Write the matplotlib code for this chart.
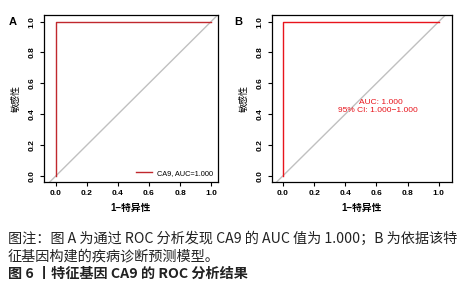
import matplotlib
matplotlib.use("Agg")
import matplotlib.pyplot as plt

plt.rcParams['font.family'] = ['Liberation Sans', 'Noto Sans CJK SC', 'DejaVu Sans']

# ROC curve points (1 - specificity, sensitivity)
fpr = [0.0, 0.0, 1.0]
tpr = [0.0, 1.0, 1.0]
ticks = [0.0, 0.2, 0.4, 0.6, 0.8, 1.0]
tick_labels = ["0.0", "0.2", "0.4", "0.6", "0.8", "1.0"]
gene = "CA9"
auc = 1.000
ci = (1.000, 1.000)
panel_labels = ["A", "B"]
xlabel = "1\u2212特异性"
ylabel = "敏感性"
caption1 = "图注：图 A 为通过 ROC 分析发现 CA9 的 AUC 值为 1.000；B 为依据该特"
caption2 = "征基因构建的疾病诊断预测模型。"
caption3 = "图 6 丨特征基因 CA9 的 ROC 分析结果"

fig = plt.figure(figsize=(4.69, 3.0), dpi=100)
W, H = 469, 300

def make_ax(left, right, top, bottom):
    return fig.add_axes([left / W, 1 - bottom / H, (right - left) / W, (bottom - top) / H])

axA = make_ax(44, 218, 15, 182)
axB = make_ax(272, 452, 15, 182)
xlims = [(-0.077, 1.045), (-0.07, 1.085)]
roc_colors = ["#c0282d", "#e8141c"]

for ax, lab, xl, col, px in zip([axA, axB], panel_labels, xlims, roc_colors, [13, 238]):
    ax.plot([-0.2, 1.2], [-0.2, 1.2], color="#c0c0c0", lw=1.0, zorder=1)
    ax.plot(fpr, tpr, color=col, lw=1.0, zorder=2)
    ax.set_xlim(*xl)
    ax.set_ylim(-0.04, 1.043)
    ax.set_xticks(ticks)
    ax.set_xticklabels(tick_labels, fontsize=6, fontweight="bold")
    ax.set_yticks(ticks)
    ax.set_yticklabels(tick_labels, fontsize=6, fontweight="bold", rotation=90, va="center")
    ax.tick_params(length=3, width=0.8, pad=3)
    for s in ax.spines.values():
        s.set_linewidth(0.9)
    ax.set_xlabel(xlabel, fontsize=7, fontweight="bold", labelpad=4)
    ax.set_ylabel(ylabel, fontsize=6.5, labelpad=6)
    fig.text(px / W, 1 - 22 / H, lab, fontsize=8, fontweight="bold", ha="center", va="center")

leg = axA.legend([axA.lines[1]], [f"{gene}, AUC={auc:.3f}"], loc="lower right",
                 fontsize=5.3, frameon=False, handlelength=2.2, borderaxespad=0.3,
                 handletextpad=0.6)

axB.text(0.63, 0.475, f"AUC: {auc:.3f}", color=roc_colors[1], fontsize=6,
         ha="center", va="center")
axB.text(0.61, 0.425, f"95% CI: {ci[0]:.3f}\u2212{ci[1]:.3f}", color=roc_colors[1],
         fontsize=6, ha="center", va="center")

cap_font = ['Noto Sans CJK SC', 'DejaVu Sans']
fig.text(8 / W, 1 - 239 / H, caption1, fontsize=10.2, family=cap_font, va="center", color="#222222")
fig.text(8 / W, 1 - 256 / H, caption2, fontsize=10.2, family=cap_font, va="center", color="#222222")
fig.text(8 / W, 1 - 274 / H, caption3, fontsize=10.2, family=cap_font, va="center",
         fontweight="bold", color="#222222")

fig.savefig("out.png", dpi=100, facecolor="white")
